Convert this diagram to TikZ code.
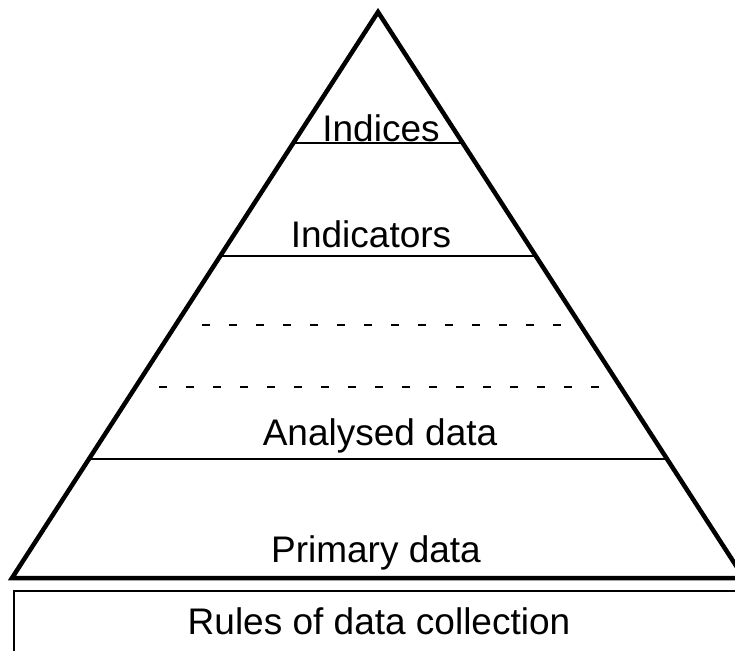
\documentclass[tikz,border=0pt]{standalone}
\usepackage{fontspec}
\setmainfont{Liberation Sans}
\usetikzlibrary{calc}
\begin{document}
\begin{tikzpicture}[x=1pt,y=-1pt,
  outline/.style={line width=4.5pt, line join=miter},
  levelline/.style={line width=2pt},
  dashline/.style={line width=2pt, dash pattern=on 8pt off 19pt},
  lbl/.style={font=\fontsize{37}{41}\selectfont, inner sep=0pt, anchor=base}]
\useasboundingbox (0,0) rectangle (735,650);
\clip (0,0) rectangle (735,650);
\coordinate (apex) at (378,12);
\coordinate (bl) at (12,578);
\coordinate (br) at (744,578);
% pyramid
\draw[outline] (bl) -- (apex) -- (br) -- cycle;
% level lines
\coordinate (l1a) at ($(apex)!0.2314!(bl)$);
\coordinate (l1b) at ($(apex)!0.2314!(br)$);
\coordinate (l2a) at ($(apex)!0.4311!(bl)$);
\coordinate (l2b) at ($(apex)!0.4311!(br)$);
\coordinate (l3a) at ($(apex)!0.7898!(bl)$);
\coordinate (l3b) at ($(apex)!0.7898!(br)$);
\draw[levelline] (l1a) -- (l1b);
\draw[levelline] (l2a) -- (l2b);
\draw[levelline] (l3a) -- (l3b);
% dashed lines
\coordinate (d1a) at (202,325);
\coordinate (d1b) at (562,325);
\coordinate (d2a) at (159,387);
\coordinate (d2b) at (622,387);
\draw[dashline] (d1a) -- (d1b);
\draw[dashline] (d2a) -- (d2b);
% base box
\draw[levelline] (14,591) rectangle (770,680);
% labels
\node[lbl] (indices) at (381,141) {Indices};
\node[lbl] (indicators) at (371,247) {Indicators};
\node[lbl] (analysed) at (380,445) {Analysed data};
\node[lbl] (primary) at (376,562) {Primary data};
\node[lbl] (rules) at (379,634) {Rules of data collection};
\end{tikzpicture}
\end{document}
